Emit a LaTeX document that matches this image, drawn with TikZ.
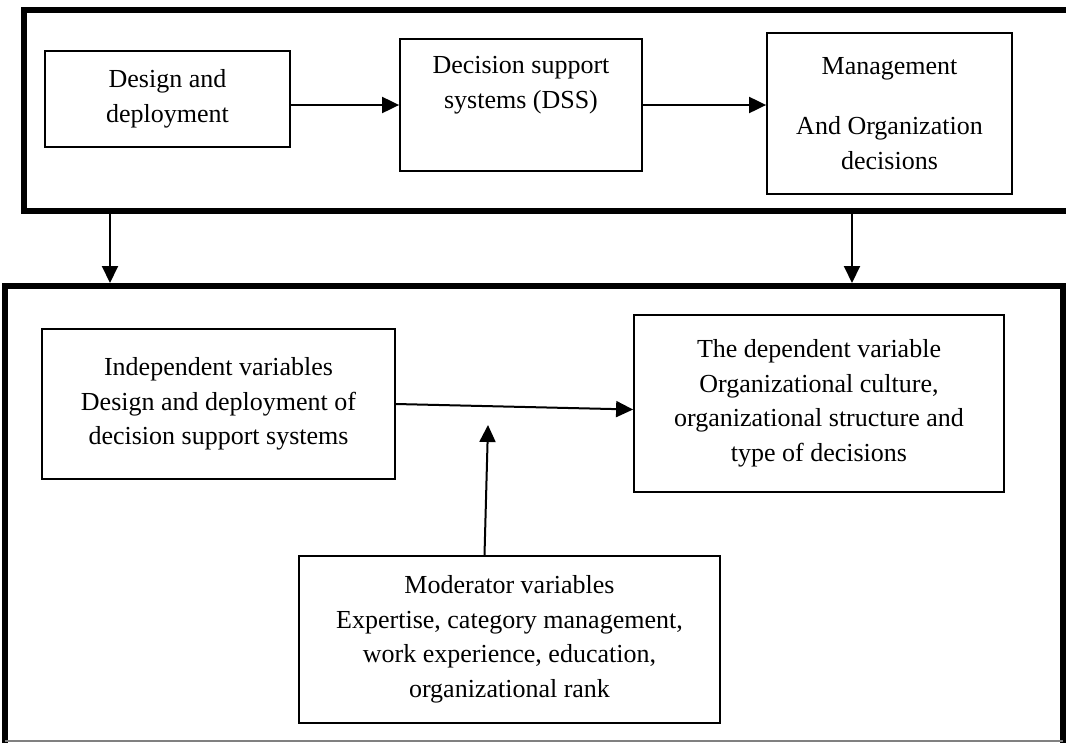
\documentclass[tikz,border=0pt]{standalone}
\usepackage{fontspec}
\setmainfont{Liberation Serif}
\usetikzlibrary{positioning,shapes,arrows.meta,calc}

\begin{document}
\begin{tikzpicture}[x=1pt,y=-1pt,
		frame/.style={rectangle,draw,line width=6pt,inner sep=0pt},
		block/.style={rectangle,draw,line width=1.8pt,inner sep=0pt,align=center,
			font=\fontsize{26}{34.5}\selectfont},
		link/.style={-{Triangle[length=17pt,width=16pt]},line width=2pt}]
		\useasboundingbox (0,0) rectangle (1066,742);
		\node[frame,minimum width=1100pt,minimum height=201pt] (upper) at (574,110.5) {};
		\node[frame,minimum width=1058pt,minimum height=514pt] (lower) at (534,543) {};
		\draw[gray,line width=1.5pt] (5,741) -- (1063,741);

		\node[block,minimum width=245pt,minimum height=96pt] (design) at (167.5,99) {Design and\\deployment};
		\node[block,minimum width=242pt,minimum height=132pt] (dss) at (521,105) {Decision support\\systems (DSS)\\ \strut};
		\node[block,minimum width=245pt,minimum height=161pt] (manage) at (889.5,113.5) {Management\\[26pt]And Organization\\decisions};

		\node[block,minimum width=353pt,minimum height=150pt] (indep) at (218.5,404) {Independent variables\\Design and deployment of\\decision support systems};
		\node[block,minimum width=370pt,minimum height=177pt] (dep) at (819,403.5) {The dependent variable\\Organizational culture,\\organizational structure and\\type of decisions};
		\node[block,minimum width=421pt,minimum height=167pt] (moder) at (509.5,639.5) {Moderator variables\\Expertise, category management,\\work experience, education,\\organizational rank};

		\coordinate (leftdrop) at (110,0);
		\coordinate (rightdrop) at (852,0);
		\coordinate (meet) at (488,425);

		\draw[link] (design.east |- dss.west) -- (dss.west);
		\draw[link] (dss.east) -- (dss.east -| manage.west);
		\draw[link] (leftdrop |- upper.south) -- (leftdrop |- lower.north);
		\draw[link] (rightdrop |- upper.south) -- (rightdrop |- lower.north);
		\draw[link] (indep.east) -- ([yshift=-6pt]dep.west);
		\draw[link] ([xshift=-25pt]moder.north) -- (meet);
	\end{tikzpicture}
\end{document}
